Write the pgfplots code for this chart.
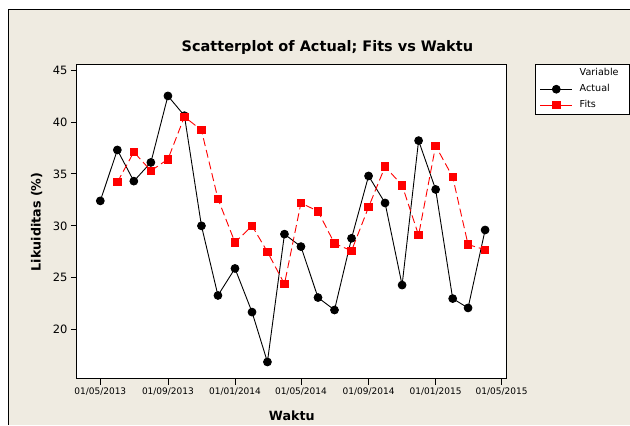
\documentclass[border=0pt]{standalone}
\usepackage{fontspec}
\setmainfont{DejaVu Sans}
\usepackage{pgfplots}
\pgfplotsset{compat=1.18}
\definecolor{bg}{RGB}{239,235,225}
\begin{document}
\begin{tikzpicture}
\fill[white] (0pt,0pt) rectangle (630pt,-425pt);
\fill[bg] (9pt,-10pt) rectangle (630pt,-425pt);
\draw[line width=1pt] (9pt,-425pt) -- (9pt,-10pt) -- (630pt,-10pt);
\node[font=\bfseries\fontsize{14.5}{16}\selectfont] at (327.6pt,-48pt) {Scatterplot of Actual; Fits vs Waktu};
\begin{axis}[
 at={(77pt,-379pt)}, anchor=south west,
 scale only axis, width=430pt, height=314pt,
 xmin=-42.5, xmax=739.1, ymin=15.29, ymax=45.48,
 axis background/.style={fill=white},
 axis line style={line width=0.9pt},
 tick align=outside, xtick pos=left, ytick pos=left,
 major tick length=6pt,
 tick style={black, line width=0.8pt},
 xtick={0,123,245,365,488,610,730},
 xticklabels={01/05/2013,01/09/2013,01/01/2014,01/05/2014,01/09/2014,01/01/2015,01/05/2015},
 xticklabel style={font=\fontsize{9}{10}\selectfont},
 ytick={20,25,30,35,40,45},
 yticklabel style={font=\fontsize{11.5}{13}\selectfont},
 /pgf/number format/assume math mode=true,
 xlabel={Waktu}, ylabel={Likuiditas (\%)},
 xlabel style={font=\bfseries\fontsize{12.7}{14}\selectfont, at={(axis description cs:0.5,-0.1166)}, anchor=center},
 ylabel style={font=\bfseries\fontsize{12.7}{14}\selectfont, at={(axis description cs:-0.0937,0.5)}, anchor=center},
 legend style={at={(1.0651,1.0032)}, anchor=north west, draw=black, line width=0.6pt, fill=white,
   font=\fontsize{9.6}{11}\selectfont, inner xsep=5pt, inner ysep=1pt, row sep=0pt, column sep=7pt,
   nodes={inner xsep=0pt, inner ysep=3.5pt, text height=7pt, text depth=2pt}},
 legend cell align=left,
 legend image code/.code={\draw[mark repeat=2,mark phase=2,#1] plot coordinates {(0pt,0pt) (16pt,0pt) (32pt,0pt)};},
 legend image post style={solid},
]
\addlegendimage{empty legend}
\addlegendentry{Variable\hspace*{6pt}}
\addplot[black, line width=0.9pt, mark=*, mark size=3.9pt] coordinates {
(0,32.4) (31,37.3) (61,34.3) (92,36.1) (123,42.5) (153,40.6) (184,30.0) (214,23.3)
(245,25.9) (276,21.7) (304,16.9) (335,29.2) (365,28.0) (396,23.1) (426,21.9) (457,28.8)
(488,34.8) (518,32.2) (549,24.3) (579,38.2) (610,33.5) (641,23.0) (669,22.1) (700,29.6)
};
\addlegendentry{Actual}
\addplot[red, line width=0.9pt, dash pattern=on 8pt off 4pt, mark=square*, mark size=3.7pt, mark options={solid}] coordinates {
(31,34.2) (61,37.1) (92,35.3) (123,36.4) (153,40.5) (184,39.2) (214,32.6)
(245,28.4) (276,30.0) (304,27.5) (335,24.4) (365,32.2) (396,31.4) (426,28.3) (457,27.6)
(488,31.8) (518,35.7) (549,33.9) (579,29.1) (610,37.7) (641,34.7) (669,28.2) (700,27.7)
};
\addlegendentry{Fits}
\end{axis}
\end{tikzpicture}
\end{document}
